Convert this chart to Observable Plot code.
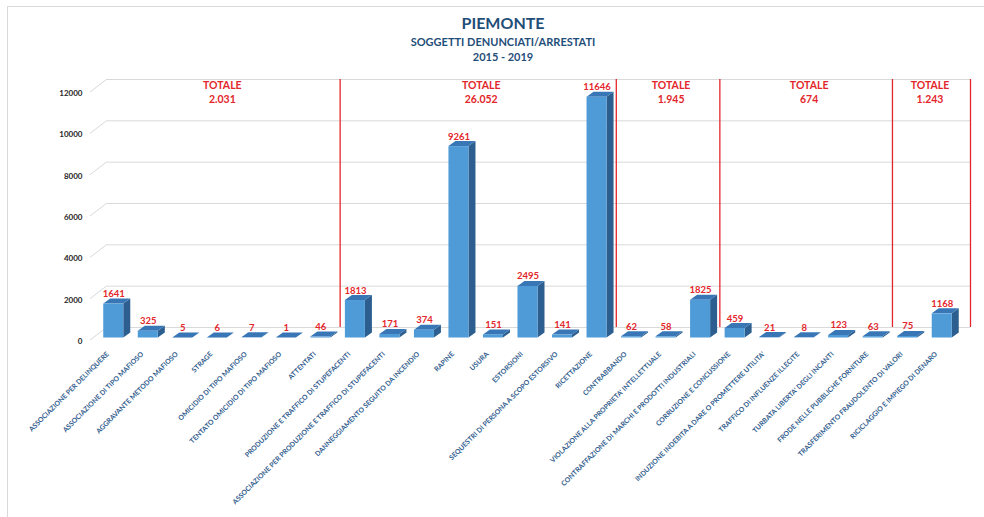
<!DOCTYPE html>
<html><head><meta charset="utf-8">
<script src="https://cdn.jsdelivr.net/npm/d3@7"></script>
<script src="https://cdn.jsdelivr.net/npm/@observablehq/plot@0.6"></script>
<style>
body{margin:0;background:#fff;font-family:Lato,sans-serif;}
#frame{position:absolute;left:7px;top:6px;width:990px;height:520px;border-top:1px solid #d9d9d9;border-left:1px solid #d9d9d9;}
.t{position:absolute;left:22px;width:962px;text-align:center;color:#1f4e79;font-weight:700;white-space:nowrap;}
#chart{position:absolute;left:0;top:70px;}
</style></head><body>
<div id="frame"></div>
<div class="t" style="top:13px;font-size:16px;line-height:20px">PIEMONTE</div>
<div class="t" style="top:35px;font-size:11px;line-height:14px">SOGGETTI DENUNCIATI/ARRESTATI</div>
<div class="t" style="top:50px;font-size:11px;line-height:14px">2015 - 2019</div>
<div id="chart"></div>
<script>
const categories = [
  "ASSOCIAZIONE PER DELINQUERE",
  "ASSOCIAZIONE DI TIPO MAFIOSO",
  "AGGRAVANTE METODO MAFIOSO",
  "STRAGE",
  "OMICIDIO DI TIPO MAFIOSO",
  "TENTATO OMICIDIO DI TIPO MAFIOSO",
  "ATTENTATI",
  "PRODUZIONE E TRAFFICO DI STUPEFACENTI",
  "ASSOCIAZIONE PER PRODUZIONE E TRAFFICO DI STUPEFACENTI",
  "DANNEGGIAMENTO SEGUITO DA INCENDIO",
  "RAPINE",
  "USURA",
  "ESTORSIONI",
  "SEQUESTRI DI PERSONA A SCOPO ESTORSIVO",
  "RICETTAZIONE",
  "CONTRABBANDO",
  "VIOLAZIONE ALLA PROPRIETA' INTELLETTUALE",
  "CONTRAFFAZIONE DI MARCHI E PRODOTTI INDUSTRIALI",
  "CORRUZIONE E CONCUSSIONE",
  "INDUZIONE INDEBITA A DARE O PROMETTERE UTILITA'",
  "TRAFFICO DI INFLUENZE ILLECITE",
  "TURBATA LIBERTA' DEGLI INCANTI",
  "FRODE NELLE PUBBLICHE FORNITURE",
  "TRASFERIMENTO FRAUDOLENTO DI VALORI",
  "RICICLAGGIO E IMPIEGO DI DENARO"
];
const values = [1641, 325, 5, 6, 7, 1, 46, 1813, 171, 374, 9261, 151, 2495, 141, 11646, 62, 58, 1825, 459, 21, 8, 123, 63, 75, 1168];
const groupSizes = [7, 8, 3, 5, 2];
const yTicks = [0, 2000, 4000, 6000, 8000, 10000, 12000];

const fmt = d3.formatLocale({decimal: ",", thousands: ".", grouping: [3], currency: ["€", ""]}).format(",d");
let start = 0;
const groups = groupSizes.map(n => {
  const s = start; start += n;
  return {mid: s + (n - 1) / 2, end: s + n - 0.5, label: "TOTALE\n" + fmt(d3.sum(values.slice(s, s + n)))};
});

// 3D style offsets (pixels)
const FX = -11, FY = 10.5, DX = 7, DY = 5;
const RED = "#e3262b";

function bars3d(index, scales) {
  const {x, y} = scales;
  const g = d3.create("svg:g");
  const hw = (x(1) - x(0)) * 0.29;
  values.forEach((v, i) => {
    const cx = x(i) + FX, y0 = y(0) + FY, y1 = y(v) + FY;
    const l = cx - hw, r = cx + hw;
    g.append("polygon").attr("fill", "#2c5f8f")
      .attr("points", [[r, y0], [r + DX, y0 - DY], [r + DX, y1 - DY], [r, y1]].join(" "));
    g.append("polygon").attr("fill", "#3876b6")
      .attr("points", [[l, y1], [r, y1], [r + DX, y1 - DY], [l + DX, y1 - DY]].join(" "));
    g.append("rect").attr("fill", "#4e9bd7")
      .attr("x", l).attr("y", y1).attr("width", r - l).attr("height", Math.max(0, y0 - y1));
  });
  return g.node();
}

function diagonals(index, scales) {
  const {x, y} = scales;
  const g = d3.create("svg:g").attr("stroke", "#d9d9d9").attr("fill", "none");
  yTicks.forEach(t => {
    const x0 = x(-0.5), yy = y(t);
    g.append("line").attr("x1", x0).attr("y1", yy).attr("x2", x0 - 17).attr("y2", yy + 13);
  });
  return g.node();
}

const chart = Plot.plot({
  width: 984,
  height: 447,
  marginLeft: 107,
  marginRight: 14,
  marginTop: 9,
  marginBottom: 190,
  x: {domain: [-0.5, 24.5], axis: null},
  y: {domain: [0, 12000], axis: null},
  style: {fontFamily: "Lato, sans-serif", background: "transparent", overflow: "visible"},
  marks: [
    Plot.ruleY(yTicks, {stroke: "#d9d9d9"}),
    diagonals,
    Plot.ruleX(groups.slice(0, -1), {x: "end", y1: 0, y2: 12000, stroke: RED, strokeWidth: 1.3, dx: -9}),
    Plot.ruleX(groups.slice(-1), {x: "end", y1: 0, y2: 12000, stroke: RED, strokeWidth: 1.3}),
    bars3d,
    Plot.text(values, {x: (d, i) => i, y: d => d, text: d => String(d), dx: FX, dy: FY - DY - 2,
      lineAnchor: "bottom", fill: RED, fontWeight: 700, fontSize: 9.5}),
    Plot.text(groups, {x: "mid", text: "label", frameAnchor: "top", lineAnchor: "top", dx: -6, dy: 0,
      lineHeight: 1.33, fill: RED, fontWeight: 700, fontSize: 10.5}),
    Plot.text(yTicks, {y: d => d, text: d => String(d), frameAnchor: "left", textAnchor: "end", dx: -25, dy: 14,
      fill: "#262626", fontWeight: 700, fontSize: 8}),
    Plot.text(categories, {x: (d, i) => i, y: 0, text: d => d, rotate: -45, textAnchor: "end",
      dx: FX - 6, dy: FY + 15, fill: "#2d5a8c", fontWeight: 700, fontSize: 6.9})
  ]
});
document.getElementById("chart").append(chart);
</script>
</body></html>
